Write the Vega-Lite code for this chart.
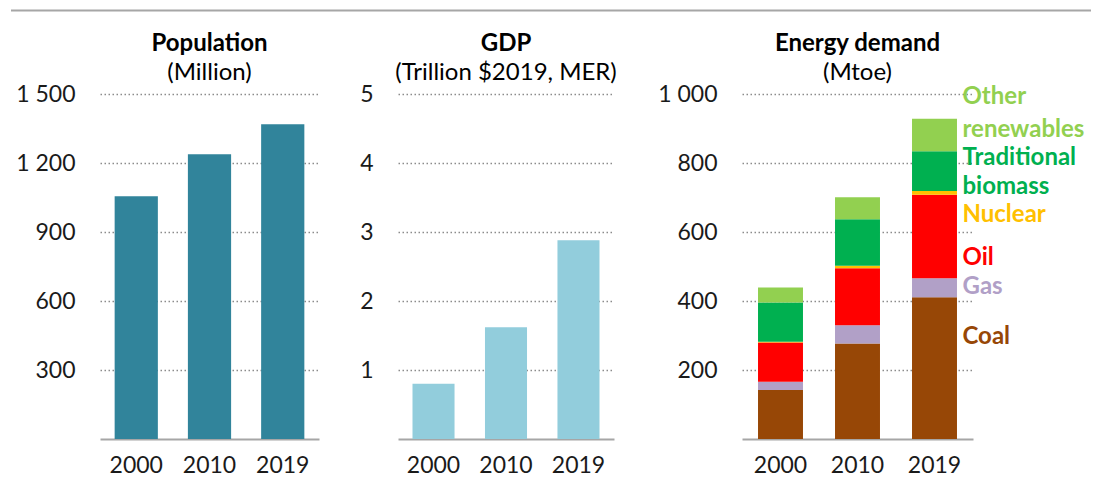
{
  "$schema": "https://vega.github.io/schema/vega-lite/v6.json",
  "background": "white",
  "padding": {"left": 10, "top": 9, "right": 2, "bottom": 2},
  "config": {
    "font": "Lato",
    "view": {"stroke": null},
    "axis": {
      "labelFont": "Lato",
      "labelFontSize": 23,
      "labelColor": "#1a1a1a",
      "ticks": false,
      "title": null
    },
    "axisX": {
      "domainColor": "#a6a6a6",
      "domainWidth": 2,
      "labelPadding": 15,
      "labelAngle": 0,
      "grid": false
    },
    "axisY": {
      "domain": false,
      "labelPadding": 25,
      "gridColor": "#8c8c8c",
      "gridDash": [1.5, 2.5],
      "gridWidth": 1.5
    },
    "title": {
      "anchor": "middle",
      "frame": "group",
      "fontSize": 24,
      "fontWeight": "bold",
      "color": "#000000",
      "subtitleFontSize": 24,
      "subtitleColor": "#000000",
      "subtitlePadding": 5,
      "offset": -2
    }
  },
  "spacing": 20,
  "vconcat": [
    {
      "width": 1000,
      "height": 1,
      "data": {"values": [{"a": 1}]},
      "mark": {"type": "rule", "color": "#a6a6a6", "strokeWidth": 2},
      "encoding": {
        "x": {"datum": -89, "type": "quantitative", "scale": {"domain": [0, 1000]}, "axis": null},
        "x2": {"datum": 991}
      }
    },
    {
      "spacing": 40,
      "hconcat": [
        {
          "title": {"text": "Population", "subtitle": "(Million)"},
          "width": 219,
          "height": 345,
          "data": {"values": [
            {"year": "2000", "value": 1055},
            {"year": "2010", "value": 1238},
            {"year": "2019", "value": 1369}
          ]},
          "mark": {"type": "bar", "color": "#31849B"},
          "encoding": {
            "x": {"field": "year", "type": "nominal", "scale": {"paddingInner": 0.41, "paddingOuter": 0.2}},
            "y": {"field": "value", "type": "quantitative",
                  "scale": {"domain": [0, 1500]},
                  "axis": {"values": [300, 600, 900, 1200, 1500], "labelExpr": "replace(format(datum.value, ','), ',', ' ')"}}
          }
        },
        {
          "title": {"text": "GDP", "subtitle": "(Trillion $2019, MER)"},
          "width": 216,
          "height": 345,
          "data": {"values": [
            {"year": "2000", "value": 0.8},
            {"year": "2010", "value": 1.62},
            {"year": "2019", "value": 2.88}
          ]},
          "mark": {"type": "bar", "color": "#92CDDC"},
          "encoding": {
            "x": {"field": "year", "type": "nominal", "scale": {"paddingInner": 0.42, "paddingOuter": 0.2}},
            "y": {"field": "value", "type": "quantitative",
                  "scale": {"domain": [0, 5]},
                  "axis": {"values": [1, 2, 3, 4, 5]}}
          }
        },
        {
          "title": {"text": "Energy demand", "subtitle": "(Mtoe)"},
          "width": 231,
          "height": 345,
          "layer": [
            {
              "data": {"values": [
                {"year": "2000", "source": "Coal", "ord": 1, "value": 142},
                {"year": "2000", "source": "Gas", "ord": 2, "value": 24},
                {"year": "2000", "source": "Oil", "ord": 3, "value": 114},
                {"year": "2000", "source": "Nuclear", "ord": 4, "value": 2},
                {"year": "2000", "source": "Traditional biomass", "ord": 5, "value": 114},
                {"year": "2000", "source": "Other renewables", "ord": 6, "value": 43},
                {"year": "2010", "source": "Coal", "ord": 1, "value": 277},
                {"year": "2010", "source": "Gas", "ord": 2, "value": 53},
                {"year": "2010", "source": "Oil", "ord": 3, "value": 165},
                {"year": "2010", "source": "Nuclear", "ord": 4, "value": 7},
                {"year": "2010", "source": "Traditional biomass", "ord": 5, "value": 135},
                {"year": "2010", "source": "Other renewables", "ord": 6, "value": 64},
                {"year": "2019", "source": "Coal", "ord": 1, "value": 411},
                {"year": "2019", "source": "Gas", "ord": 2, "value": 55},
                {"year": "2019", "source": "Oil", "ord": 3, "value": 242},
                {"year": "2019", "source": "Nuclear", "ord": 4, "value": 11},
                {"year": "2019", "source": "Traditional biomass", "ord": 5, "value": 115},
                {"year": "2019", "source": "Other renewables", "ord": 6, "value": 94}
              ]},
              "mark": {"type": "bar"},
              "encoding": {
                "x": {"field": "year", "type": "nominal", "scale": {"paddingInner": 0.416, "paddingOuter": 0.208}},
                "y": {"field": "value", "type": "quantitative", "stack": "zero",
                      "scale": {"domain": [0, 1000]},
                      "axis": {"values": [200, 400, 600, 800, 1000], "labelExpr": "replace(format(datum.value, ','), ',', ' ')"}},
                "color": {"field": "source", "type": "nominal", "legend": null,
                          "scale": {"domain": ["Coal", "Gas", "Oil", "Nuclear", "Traditional biomass", "Other renewables"],
                                    "range": ["#974706", "#B1A0C7", "#FF0000", "#FFC000", "#00B050", "#92D050"]}},
                "order": {"field": "ord", "type": "quantitative"}
              }
            },
            {
              "data": {"values": [
                {"label": "Other", "source": "Other renewables", "pos": 991},
                {"label": "renewables", "source": "Other renewables", "pos": 897},
                {"label": "Traditional", "source": "Traditional biomass", "pos": 815},
                {"label": "biomass", "source": "Traditional biomass", "pos": 731},
                {"label": "Nuclear", "source": "Nuclear", "pos": 649},
                {"label": "Oil", "source": "Oil", "pos": 525},
                {"label": "Gas", "source": "Gas", "pos": 441},
                {"label": "Coal", "source": "Coal", "pos": 296}
              ]},
              "mark": {"type": "text", "align": "left", "baseline": "middle", "dx": 28, "fontSize": 24, "fontWeight": "bold"},
              "encoding": {
                "x": {"datum": "2019", "type": "nominal"},
                "y": {"field": "pos", "type": "quantitative"},
                "text": {"field": "label"},
                "color": {"field": "source", "type": "nominal"}
              }
            }
          ]
        }
      ]
    }
  ]
}
